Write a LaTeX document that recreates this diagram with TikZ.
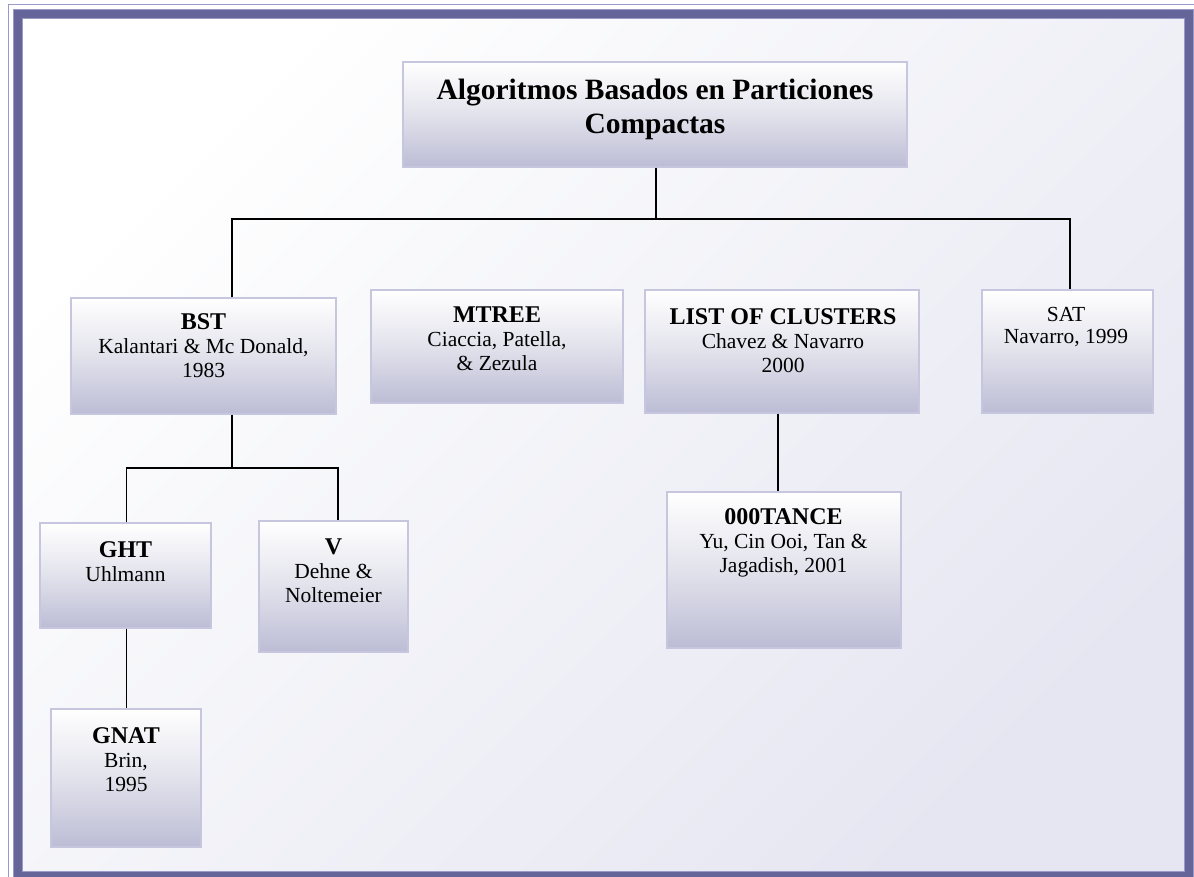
\documentclass[tikz,border=0pt]{standalone}
\usepackage{fontspec}
\setmainfont{Liberation Serif}
\definecolor{framec}{HTML}{65659A}
\definecolor{framelt}{HTML}{9A9AC6}
\definecolor{bgbot}{HTML}{E5E6F1}
\definecolor{boxbot}{HTML}{BCBDD5}
\definecolor{boxmid}{HTML}{E2E2EC}
\definecolor{boxline}{HTML}{C6C7DF}
\newcommand{\hd}{\fontsize{24}{24}\selectfont\bfseries}
\begin{document}
\begin{tikzpicture}[x=1pt,y=-1pt,
  box/.style={draw=boxline, line width=1.3pt, top color=white, bottom color=boxbot, middle color=boxmid, inner sep=0pt},
  txt/.style={align=center, inner sep=0pt, font=\fontsize{21.5}{24}\selectfont},
  link/.style={draw=black, line width=1.8pt}]
\clip (0,0) rectangle (1194,876);
% background and frame
\shade[top color=white, bottom color=bgbot, shading angle=45] (18,13) rectangle (1189,876);
\draw[framelt, line width=1.5pt] (8.5,4.5) rectangle (1220,900);
\draw[framelt, line width=10pt] (18,13.5) rectangle (1189,876);
\draw[framec, line width=8pt] (18,13.5) rectangle (1189,876);
% boxes
\node[box, minimum width=504pt, minimum height=105pt] (title) at (655,114.5) {};
\node[box, minimum width=265pt, minimum height=116pt] (bst) at (203.5,356) {};
\node[box, minimum width=252pt, minimum height=113pt] (mtree) at (497,346.5) {};
\node[box, minimum width=274pt, minimum height=123pt] (list) at (782,351.5) {};
\node[box, minimum width=171pt, minimum height=123pt] (sat) at (1067.5,351.5) {};
\node[box, minimum width=171pt, minimum height=105pt] (ght) at (125.5,575.5) {};
\node[box, minimum width=149pt, minimum height=131pt] (v) at (333.5,586.5) {};
\node[box, minimum width=150pt, minimum height=138pt] (gnat) at (126,778) {};
\node[box, minimum width=234pt, minimum height=156pt] (tance) at (784,570) {};
% texts (anchor base = baseline of last line)
\node[txt, anchor=base, font=\fontsize{29.5}{34}\selectfont\bfseries] (title-t) at (655,133) {Algoritmos Basados en Particiones\\Compactas};
\node[txt, anchor=base] (bst-t) at (203.5,377) {{\hd BST}\\Kalantari \& Mc Donald,\\1983};
\node[txt, anchor=base] (mtree-t) at (497,370) {{\hd MTREE}\\Ciaccia, Patella,\\\& Zezula};
\node[txt, anchor=base] (list-t) at (783,372) {{\hd LIST OF CLUSTERS}\\Chavez \& Navarro\\2000};
\node[txt, anchor=base, font=\fontsize{21.5}{22}\selectfont] (sat-t) at (1066,343) {SAT\\Navarro, 1999};
\node[txt, anchor=base] (ght-t) at (125.5,581) {{\hd GHT}\\Uhlmann};
\node[txt, anchor=base] (v-t) at (333.5,602) {{\hd V}\\Dehne \&\\Noltemeier};
\node[txt, anchor=base] (gnat-t) at (126,791) {{\hd GNAT}\\Brin,\\1995};
\node[txt, anchor=base] (tance-t) at (783.5,572) {{\hd 000TANCE}\\Yu, Cin Ooi, Tan \&\\Jagadish, 2001};
% connectors
\coordinate (top) at (656,219);
\coordinate (bx) at (232,0);
\coordinate (mid) at (232,468);
\coordinate (gx) at (126.5,0);
\coordinate (vx) at (338,0);
\coordinate (lx) at (778,0);
\draw[link] (title.south -| top) -- (top);
\draw[link] (bst.north -| bx) |- (top) -| (sat.north -| 1070,0);
\draw[link] (bst.south -| bx) -- (mid);
\draw[link] (ght.north -| gx) |- (mid) -| (v.north -| vx);
\draw[link] (ght.south -| gx) -- (gnat.north -| gx);
\draw[link] (list.south -| lx) -- (tance.north -| lx);
\end{tikzpicture}
\end{document}
